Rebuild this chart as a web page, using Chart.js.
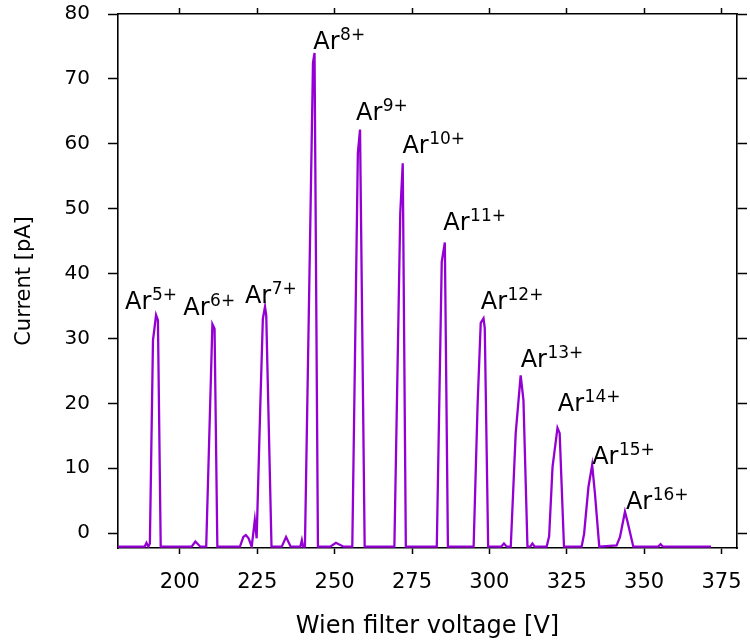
<!DOCTYPE html>
<html><head><meta charset="utf-8">
<script src="https://cdn.jsdelivr.net/npm/chart.js@4/dist/chart.umd.min.js"></script>
<style>html,body{margin:0;padding:0;background:#fff;}#wrap{width:750px;height:641px;}</style>
</head><body><div id="wrap"><canvas id="c" width="750" height="641"></canvas></div>
<script>
// Wien filter scan (V) and measured current (pA)
const voltage = [180, 186, 188.6, 189.2, 189.8, 190.3, 191.3, 192.3, 192.9, 193.8,
  203.8, 205.0, 206.6, 208.5, 210.5, 211.2, 212.1,
  219.4, 220.5, 221.3, 222.2, 223.2, 224.2, 224.8, 226.0, 226.8, 227.5, 227.9, 229.6,
  232.9, 234.3, 235.8, 238.9, 239.4, 239.8, 240.4, 243.0, 243.5, 244.6,
  248.6, 250.4, 252.9, 255.7, 257.5, 258.2, 259.7,
  269.3, 271.2, 272.0, 273.0, 283.0, 284.6, 285.6, 286.6,
  294.9, 296.2, 297.2, 298.1, 298.5, 299.6, 303.8, 304.7, 305.6,
  306.9, 308.5, 310.1, 311.0, 312.3, 313.2, 313.9, 314.6,
  318.5, 319.3, 320.4, 322.0, 322.7, 324.1,
  329.8, 330.6, 332.0, 333.2, 334.1, 335.5,
  341.1, 342.2, 343.8, 344.5, 346.5, 354.5, 355.3, 356.1, 371.6];
const current = [-2.1, -2.1, -2.1, -1.5, -2.1, -1.6, 29.7, 33.6, 32.8, -2.1,
  -2.1, -1.3, -2.1, -2.1, 32.2, 31.5, -2.1,
  -2.1, -0.6, -0.3, -0.8, -2.1, 2.0, -0.8, 20, 33, 34.9, 33.5, -2.1,
  -2.1, -0.6, -2.1, -2.1, -1.1, -2.1, -2.1, 72.5, 74.0, -2.1,
  -2.1, -1.5, -2.1, -2.1, 58.6, 62.2, -2.1,
  -2.1, 49.3, 57.0, -2.1, -2.1, 41.8, 44.8, -2.1,
  -2.1, 20, 32.4, 33.1, 31.6, -2.1, -2.1, -1.6, -2.1,
  -2.1, 15.4, 24.3, 20.5, -2.1, -2.1, -1.6, -2.1,
  -2.1, -0.5, 10.2, 16.2, 15.4, -2.1,
  -2.1, -0.1, 7.1, 10.5, 6.1, -2.1,
  -1.9, -0.6, 3.3, 2.0, -2.1, -2.1, -1.7, -2.1, -2.1];

const xTicks = [200, 225, 250, 275, 300, 325, 350, 375];
const yTicks = [0, 10, 20, 30, 40, 50, 60, 70, 80];

// Peak annotations: charge state and label anchor (data units)
const ionCharge = [5, 6, 7, 8, 9, 10, 11, 12, 13, 14, 15, 16];
const labelVoltage = [182.3, 201.1, 221.0, 243.1, 256.9, 271.9, 285.1, 297.2, 310.1, 322.1, 333.2, 344.1];
const labelCurrent = [34.6, 33.6, 35.5, 74.6, 63.7, 58.6, 46.7, 34.6, 25.6, 18.8, 10.7, 3.65];

const FONT = '"DejaVu Sans", sans-serif';
const X_MIN = 180, X_MAX = 380, Y_MIN = -2.3, Y_MAX = 80;

const ionLabels = {
  id: 'ionLabels',
  afterDatasetsDraw(chart) {
    const {ctx} = chart;
    const xs = chart.scales.x, ys = chart.scales.y;
    ctx.save();
    ctx.fillStyle = '#000';
    ctx.textBaseline = 'alphabetic';
    ctx.textAlign = 'left';
    ionCharge.forEach((q, i) => {
      const px = xs.getPixelForValue(labelVoltage[i]);
      const py = ys.getPixelForValue(labelCurrent[i]);
      ctx.font = '24px ' + FONT;
      ctx.fillText('Ar', px, py);
      const w = ctx.measureText('Ar').width;
      ctx.font = '17px ' + FONT;
      ctx.fillText(q + '+', px + w + 0.5, py - 9);
    });
    ctx.restore();
  }
};

const setTicks = arr => s => { s.ticks = arr.map(v => ({value: v})); };
const fitH = h => s => { s.height = h; s.paddingLeft = 0; s.paddingRight = 0; };
const fitW = w => s => { s.width = w; s.paddingTop = 0; s.paddingBottom = 0; };
const gridX = {display: true, drawOnChartArea: false, drawTicks: true, tickLength: 6, tickWidth: 1.5, tickColor: '#000'};
const gridY = {display: true, drawOnChartArea: false, drawTicks: true, tickLength: 10, tickWidth: 1.5, tickColor: '#000'};
const border = {display: true, color: '#000', width: 1.6};

new Chart(document.getElementById('c'), {
  type: 'line',
  data: {
    datasets: [{
      data: voltage.map((v, i) => ({x: v, y: current[i]})),
      borderColor: '#9400D3',
      borderWidth: 2.3,
      pointRadius: 0,
      tension: 0,
      fill: false
    }]
  },
  options: {
    responsive: false,
    animation: false,
    devicePixelRatio: 1,
    layout: {padding: {top: 14, right: 13, left: 0, bottom: 0}},
    plugins: {legend: {display: false}, tooltip: {enabled: false}},
    scales: {
      x: {
        type: 'linear', position: 'bottom', min: X_MIN, max: X_MAX,
        afterBuildTicks: setTicks(xTicks),
        afterFit: fitH(93),
        grid: gridX, border: border,
        ticks: {color: '#000', font: {family: FONT, size: 21}, padding: 16, maxRotation: 0, autoSkip: false},
        title: {display: true, text: 'Wien filter voltage [V]', color: '#000', font: {family: FONT, size: 24}, padding: {top: 0, bottom: 0}}
      },
      x2: {
        type: 'linear', position: 'top', min: X_MIN, max: X_MAX,
        afterBuildTicks: setTicks(xTicks),
        afterFit: fitH(0),
        grid: gridX, border: border,
        ticks: {display: false}
      },
      y: {
        type: 'linear', position: 'left', min: Y_MIN, max: Y_MAX,
        afterBuildTicks: setTicks(yTicks),
        afterFit: fitW(118),
        grid: gridY, border: border,
        ticks: {color: '#000', font: {family: FONT, size: 20}, padding: 18},
        title: {display: true, text: 'Current [pA]', color: '#000', font: {family: FONT, size: 21}, padding: {top: 12, bottom: 0}}
      },
      y2: {
        type: 'linear', position: 'right', min: Y_MIN, max: Y_MAX,
        afterBuildTicks: setTicks(yTicks),
        afterFit: fitW(0),
        grid: gridY, border: border,
        ticks: {display: false}
      }
    }
  },
  plugins: [ionLabels]
});
</script>
</body></html>
